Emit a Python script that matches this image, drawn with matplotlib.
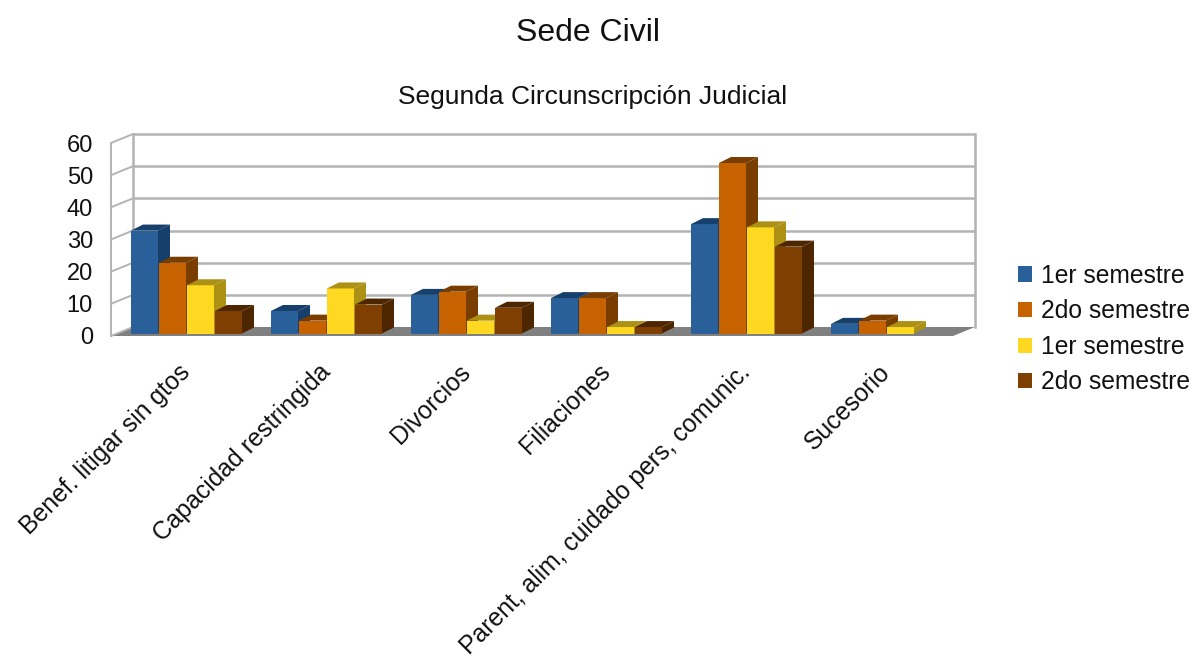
import matplotlib
matplotlib.use("Agg")
import matplotlib.pyplot as plt
from matplotlib.patches import Polygon
from matplotlib.transforms import ScaledTranslation

plt.rcParams["font.family"] = ["Liberation Sans", "DejaVu Sans"]

categories = [
    "Benef. litigar sin gtos",
    "Capacidad restringida",
    "Divorcios",
    "Filiaciones",
    "Parent, alim, cuidado pers, comunic.",
    "Sucesorio",
]
series_names = ["1er semestre", "2do semestre", "1er semestre", "2do semestre"]
first_2020 = [32, 7, 12, 11, 34, 3]
second_2020 = [22, 4, 13, 11, 53, 4]
first_2021 = [15, 14, 4, 2, 33, 2]
second_2021 = [7, 9, 8, 2, 27, 0]
y_ticks = [0, 10, 20, 30, 40, 50, 60]

front_colors = ["#2a6099", "#c66300", "#ffd921", "#7f3f00"]
side_colors = ["#173f6b", "#7a3d00", "#ad9114", "#4d2600"]
top_colors = ["#173f6b", "#7a3d00", "#ad9114", "#4d2600"]
grid_color = "#b3b3b3"

W, H = 1192, 655
fig = plt.figure(figsize=(W / 100, H / 100), dpi=100)
# axes = front face of the 3D box, in pixels
left, right, top, bottom = 111, 953, 143, 336
ax = fig.add_axes([left / W, 1 - bottom / H, (right - left) / W, (bottom - top) / H])

px_x = 140.0  # pixels per category
px_y = (bottom - top) / 60.0
ax.set_xlim((left - 187) / px_x, (right - 187) / px_x)
ax.set_ylim(0, 60)

# box depth and bar depth, converted to data units
box_dx, box_dy = 22 / px_x, 9 / px_y
bar_dx, bar_dy = 12 / px_x, 6 / px_y
lift = 2.5 / px_y
bar_w = 27 / px_x
bar_step = 28 / px_x

x0, x1 = ax.get_xlim()

# floor and walls
ax.add_patch(Polygon([(x0, 0), (x1, 0), (x1 + box_dx, box_dy), (x0 + box_dx, box_dy)],
                     facecolor="#808080", edgecolor="none", clip_on=False, zorder=1))
for v in y_ticks:
    if v > 0:
        ax.plot([x0 + box_dx, x1 + box_dx], [v + box_dy, v + box_dy], color=grid_color, lw=1.8,
                clip_on=False, zorder=1, solid_capstyle="butt")
    ax.plot([x0, x0 + box_dx], [v, v + box_dy], color=grid_color, lw=1.4, clip_on=False, zorder=1)
ax.plot([x0, x0], [0, 60], color=grid_color, lw=1.4, clip_on=False, zorder=1)
ax.plot([x0 + box_dx] * 2, [box_dy, 60 + box_dy], color=grid_color, lw=1.8, clip_on=False, zorder=1)
ax.plot([x1 + box_dx] * 2, [box_dy, 60 + box_dy], color=grid_color, lw=1.8, clip_on=False, zorder=1)

# bars, drawn left to right so each one hides the side of the previous
series = [first_2020, second_2020, first_2021, second_2021]
handles = []
for s, values in enumerate(series):
    for c, v in enumerate(values):
        if v == 0:
            continue
        xl = c + (s - 2) * bar_step
        xr = xl + bar_w
        z = 3 + c * 10 + s
        yb, yt = lift, lift + v
        bar = ax.bar(xl, v, width=bar_w, bottom=lift, align="edge", color=front_colors[s],
                     edgecolor="none", zorder=z, clip_on=False,
                     label=series_names[s] if c == 0 else None)
        ax.add_patch(Polygon([(xr, yb), (xr + bar_dx, yb + bar_dy), (xr + bar_dx, yt + bar_dy), (xr, yt)],
                             facecolor=side_colors[s], edgecolor="none", zorder=z, clip_on=False))
        ax.add_patch(Polygon([(xl, yt), (xr, yt), (xr + bar_dx, yt + bar_dy), (xl + bar_dx, yt + bar_dy)],
                             facecolor=top_colors[s], edgecolor="none", zorder=z, clip_on=False))
        if c == 0:
            handles.append(bar)

for side in ["top", "right", "left", "bottom"]:
    ax.spines[side].set_visible(False)
ax.patch.set_visible(False)
ax.set_yticks(y_ticks)
ax.set_xticks(range(len(categories)))
ax.set_xticklabels(categories, rotation=45, ha="right", rotation_mode="anchor")
ax.tick_params(axis="y", length=0, pad=13, labelsize=17, labelcolor="#111111")
ax.tick_params(axis="x", length=0, pad=17, labelsize=17.8, labelcolor="#111111")
# labels end a little left of the group centre
shift = ScaledTranslation(-9 / 100, 0, fig.dpi_scale_trans)
for label in ax.get_xticklabels():
    label.set_transform(label.get_transform() + shift)

fig.text(588 / W, 1 - 33 / H, "Sede Civil", fontsize=23, ha="center", va="center", color="#111111")
fig.text(593 / W, 1 - 97 / H, "Segunda Circunscripción Judicial", fontsize=19, ha="center", va="center",
         color="#111111")

fig.legend(handles, series_names, loc="center left", bbox_to_anchor=(1018 / W, 1 - 329 / H), frameon=False,
           fontsize=17.7, handlelength=0.57, handleheight=0.57, handletextpad=0.35, labelspacing=0.47,
           borderpad=0, borderaxespad=0, labelcolor="#111111")

fig.savefig("out.png", dpi=100)
